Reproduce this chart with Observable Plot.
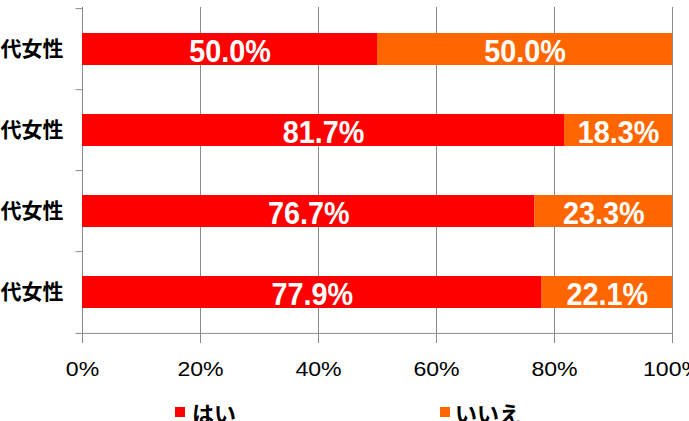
<!DOCTYPE html>
<html>
<head>
<meta charset="utf-8">
<script src="https://cdn.jsdelivr.net/npm/d3@7"></script>
<script src="https://cdn.jsdelivr.net/npm/@observablehq/plot@0.6"></script>
<style>
  html, body { margin: 0; padding: 0; background: #fff; width: 689px; height: 421px; overflow: hidden; position: relative; }
  #chart { position: absolute; left: -40px; top: 0; }
  #chart svg { max-width: none; }
  .leg { position: absolute; top: 401px; font-family: "Noto Sans CJK JP", sans-serif; font-weight: bold; font-size: 22px; line-height: 22px; color: #000; white-space: nowrap; }
  .sw { position: absolute; top: 407px; width: 10px; height: 10px; }
</style>
</head>
<body>
<div id="chart"></div>
<div class="sw" id="sw0" style="left:175px"></div>
<div class="leg" id="lg0" style="left:192px"></div>
<div class="sw" id="sw1" style="left:440px"></div>
<div class="leg" id="lg1" style="left:455px"></div>
<script>
const categories = ["20代女性", "30代女性", "40代女性", "50代女性"];
const seriesNames = ["はい", "いいえ"];
const yesValues = [50.0, 81.7, 76.7, 77.9];
const noValues = [50.0, 18.3, 23.3, 22.1];
const xTicks = [0, 20, 40, 60, 80, 100];
const colors = ["#ff0000", "#ff6600"];

const data = [];
categories.forEach((c, i) => {
  data.push({cat: c, series: seriesNames[0], value: yesValues[i]});
  data.push({cat: c, series: seriesNames[1], value: noValues[i]});
});

const height = 390, marginTop = 7, marginBottom = 56;
const step = (height - marginTop - marginBottom) / categories.length;
const gray = "#8a8a8a";

const plot = Plot.plot({
  width: 742,
  height,
  marginLeft: 122,
  marginRight: 30,
  marginTop,
  marginBottom,
  style: {background: "white", overflow: "visible"},
  x: {domain: [0, 100], ticks: xTicks},
  y: {domain: categories, paddingInner: 0.61, paddingOuter: 0.305},
  color: {domain: seriesNames, range: colors},
  marks: [
    Plot.gridX(xTicks, {stroke: gray, strokeOpacity: 1, strokeWidth: 1}),
    Plot.ruleX([0], {stroke: gray, strokeWidth: 1}),
    Plot.ruleY(categories, {y: d => d, x1: -1.1, x2: 0, dy: -step / 2, stroke: gray}),
    Plot.ruleY([categories[categories.length - 1]], {y: d => d, x1: -1.1, x2: 100, dy: step / 2, stroke: gray}),
    Plot.barX(data, Plot.stackX({x: "value", y: "cat", fill: "series", order: seriesNames})),
    Plot.textX(data, Plot.stackX({
      x: "value", y: "cat", z: "series", order: seriesNames,
      text: d => d.value.toFixed(1) + "%",
      fill: "white", fontSize: 32, fontWeight: "bold", dy: 2,
      fontFamily: "'Liberation Sans', Arial, sans-serif"
    })),
    Plot.axisX(xTicks, {
      tickSize: 9, tickPadding: 18, stroke: gray, fill: "black",
      tickFormat: d => d + "%", fontSize: 21, label: null,
      fontFamily: "'Liberation Sans', Arial, sans-serif"
    }),
    Plot.axisY({
      tickSize: 0, tickPadding: 19, fontSize: 21, fontWeight: "bold", fill: "black", label: null,
      fontFamily: "'Noto Sans CJK JP', sans-serif"
    })
  ]
});
document.getElementById("chart").appendChild(plot);

// horizontal squeeze/stretch of text, appended to Plot's own transform
function stretch(selector, sx) {
  plot.querySelectorAll(selector).forEach(t => {
    const tr = t.getAttribute("transform") || "";
    t.setAttribute("transform", (tr + ` scale(${sx},1)`).trim());
  });
}
stretch('g[aria-label="text"] text', 0.9);
stretch('g[aria-label="x-axis tick label"] text', 1.1);

seriesNames.forEach((s, i) => {
  document.getElementById("sw" + i).style.background = colors[i];
  document.getElementById("lg" + i).textContent = s;
});
</script>
</body>
</html>
